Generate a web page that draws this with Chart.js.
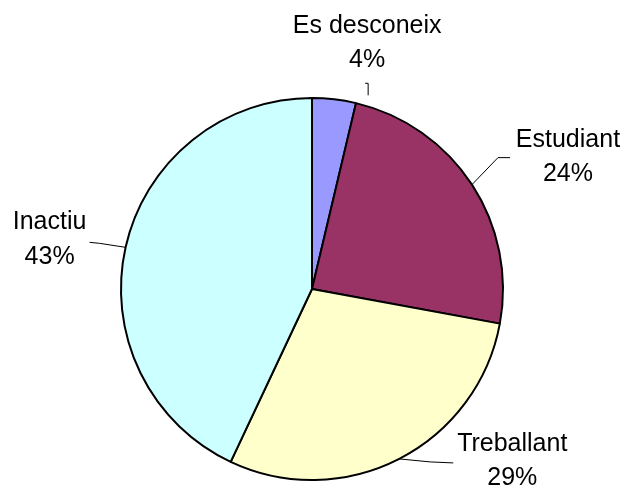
<!DOCTYPE html>
<html>
<head>
<meta charset="utf-8">
<script src="https://cdn.jsdelivr.net/npm/chart.js@4.4.1/dist/chart.umd.min.js"></script>
<style>
  html, body { margin: 0; padding: 0; background: #ffffff; }
  #wrap { width: 627px; height: 492px; }
</style>
</head>
<body>
<div id="wrap"><canvas id="c" width="627" height="492"></canvas></div>
<script>
// ---- data ----
const categories = ["Es desconeix", "Estudiant", "Treballant", "Inactiu"];
const values = [3.7, 24.2, 29.1, 43.0];

// ---- style ----
const colors = ["#9999FF", "#993366", "#FFFFCC", "#CCFFFF"];
// label layout relative to the slice's outer-edge midpoint (style only)
const labelLayout = [
  { line: [[34, -4], [34, -16], [31, -16]], text: [33, -73], gap: 34 },
  { line: [[0, 0], [26, -27], [38, -27]], text: [96, -45], gap: 34 },
  { line: [[0, 0], [31, 3], [54, 4]], text: [113, -15], gap: 34 },
  { line: [[0, 0], [-26, -4], [-36, -5]], text: [-76, -25], gap: 35 }
];

const labelPlugin = {
  id: 'excelLabels',
  afterDatasetsDraw(chart) {
    const ctx = chart.ctx;
    const meta = chart.getDatasetMeta(0);
    const total = values.reduce((a, b) => a + b, 0);
    ctx.save();
    meta.data.forEach((arc, i) => {
      const p = arc.getProps(['x', 'y', 'startAngle', 'endAngle', 'outerRadius'], true);
      const mid = (p.startAngle + p.endAngle) / 2;
      const ax = p.x + Math.cos(mid) * p.outerRadius;
      const ay = p.y + Math.sin(mid) * p.outerRadius;
      const L = labelLayout[i];
      ctx.strokeStyle = '#000000';
      ctx.lineWidth = 1;
      ctx.beginPath();
      L.line.forEach((pt, k) => {
        const x = ax + pt[0], y = ay + pt[1];
        if (k === 0) ctx.moveTo(x, y); else ctx.lineTo(x, y);
      });
      ctx.stroke();
      ctx.fillStyle = '#000000';
      ctx.font = '25px "Liberation Sans", Arial, sans-serif';
      ctx.textAlign = 'center';
      ctx.textBaseline = 'middle';
      const tx = ax + L.text[0], ty = ay + L.text[1];
      ctx.fillText(categories[i], tx, ty);
      ctx.fillText(Math.round(values[i] / total * 100) + '%', tx, ty + L.gap);
    });
    ctx.restore();
  }
};

new Chart(document.getElementById('c'), {
  type: 'pie',
  data: {
    labels: categories,
    datasets: [{
      data: values,
      backgroundColor: colors,
      borderColor: '#000000',
      borderWidth: 2,
      borderAlign: 'center'
    }]
  },
  options: {
    responsive: false,
    animation: false,
    radius: 191,
    layout: { padding: { left: 100, right: 103, top: 90, bottom: 4 } },
    plugins: {
      legend: { display: false },
      tooltip: { enabled: false }
    }
  },
  plugins: [labelPlugin]
});
</script>
</body>
</html>
